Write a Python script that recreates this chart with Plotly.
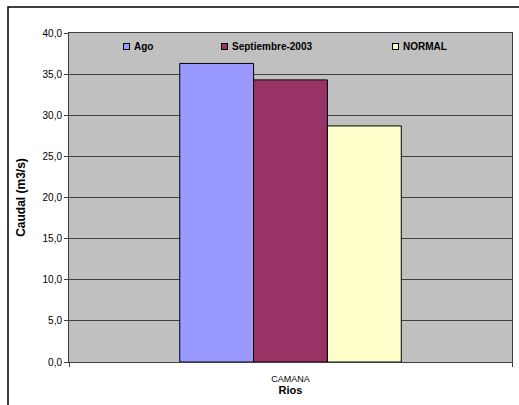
import plotly.graph_objects as go

categories = ["CAMANA"]
series_names = ["Ago", "Septiembre-2003", "NORMAL"]
series_values = [[36.3], [34.3], [28.7]]
series_colors = ["#9999FF", "#993366", "#FFFFCC"]
y_ticks = [0, 5, 10, 15, 20, 25, 30, 35, 40]

fig = go.Figure()
for name, vals, col in zip(series_names, series_values, series_colors):
    fig.add_trace(go.Bar(
        x=categories, y=vals, name=name,
        marker=dict(color=col, line=dict(color="#000000", width=1)),
        showlegend=False,
    ))

L, R, T, B = 69, 7, 33, 43
W, H = 519, 405
pw = W - L - R
ph = H - T - B

def px2paper(x):
    return (x - L) / pw

def py2paper(y):
    return (H - B - y) / ph

# legend (Excel style, inside the plot area, one row)
legend_text_x = [133, 231, 402]
legend_y = 47
legend_annots = []
for name, col, tx in zip(series_names, series_colors, legend_text_x):
    legend_annots.append(dict(
        xref="paper", yref="paper", x=px2paper(tx - 6.5), y=py2paper(legend_y),
        xanchor="center", yanchor="middle", text=" ", showarrow=False,
        font=dict(size=4), width=5, height=5, borderpad=0, borderwidth=1,
        bordercolor="#000000", bgcolor=col,
    ))
    legend_annots.append(dict(
        xref="paper", yref="paper", x=px2paper(tx), y=py2paper(legend_y),
        xanchor="left", yanchor="middle", text="<b>%s</b>" % name, showarrow=False,
        font=dict(family="Liberation Sans, Arial", size=10, color="#000000"),
        borderpad=0,
    ))

fig.update_layout(
    width=W, height=H,
    margin=dict(l=L, r=R, t=T, b=B),
    paper_bgcolor="#FFFFFF",
    plot_bgcolor="#C0C0C0",
    separators=",.",
    barmode="group",
    bargap=0.5,
    bargroupgap=0,
    font=dict(family="Liberation Sans, Arial", size=10, color="#000000"),
    annotations=legend_annots,
    xaxis=dict(
        title=dict(text="<b>Rios</b>", font=dict(size=11), standoff=1),
        showline=True, linecolor="#404040", linewidth=1, mirror=True,
        ticks="outside", tickson="boundaries", ticklen=4, tickcolor="#404040",
        tickfont=dict(size=9), ticklabelstandoff=8,
    ),
    yaxis=dict(
        title=dict(text="<b>Caudal (m3/s)</b>", font=dict(size=12), standoff=14),
        range=[0, 40], tickvals=y_ticks, tickformat=".1f",
        showgrid=True, gridcolor="#404040", gridwidth=1,
        showline=True, linecolor="#404040", linewidth=1, mirror=True,
        ticks="outside", ticklen=4, tickcolor="#404040",
        tickfont=dict(size=10), zeroline=False,
    ),
    shapes=[dict(
        type="rect", xref="paper", yref="paper",
        x0=px2paper(8), x1=px2paper(530),
        y0=py2paper(420), y1=py2paper(7),
        line=dict(color="#000000", width=1.5), fillcolor="rgba(0,0,0,0)",
        layer="above",
    )],
)

fig.write_html(
    "out.html",
    config={"displayModeBar": False},
    post_script="document.body.style.margin='0';document.body.style.overflow='hidden';",
)
